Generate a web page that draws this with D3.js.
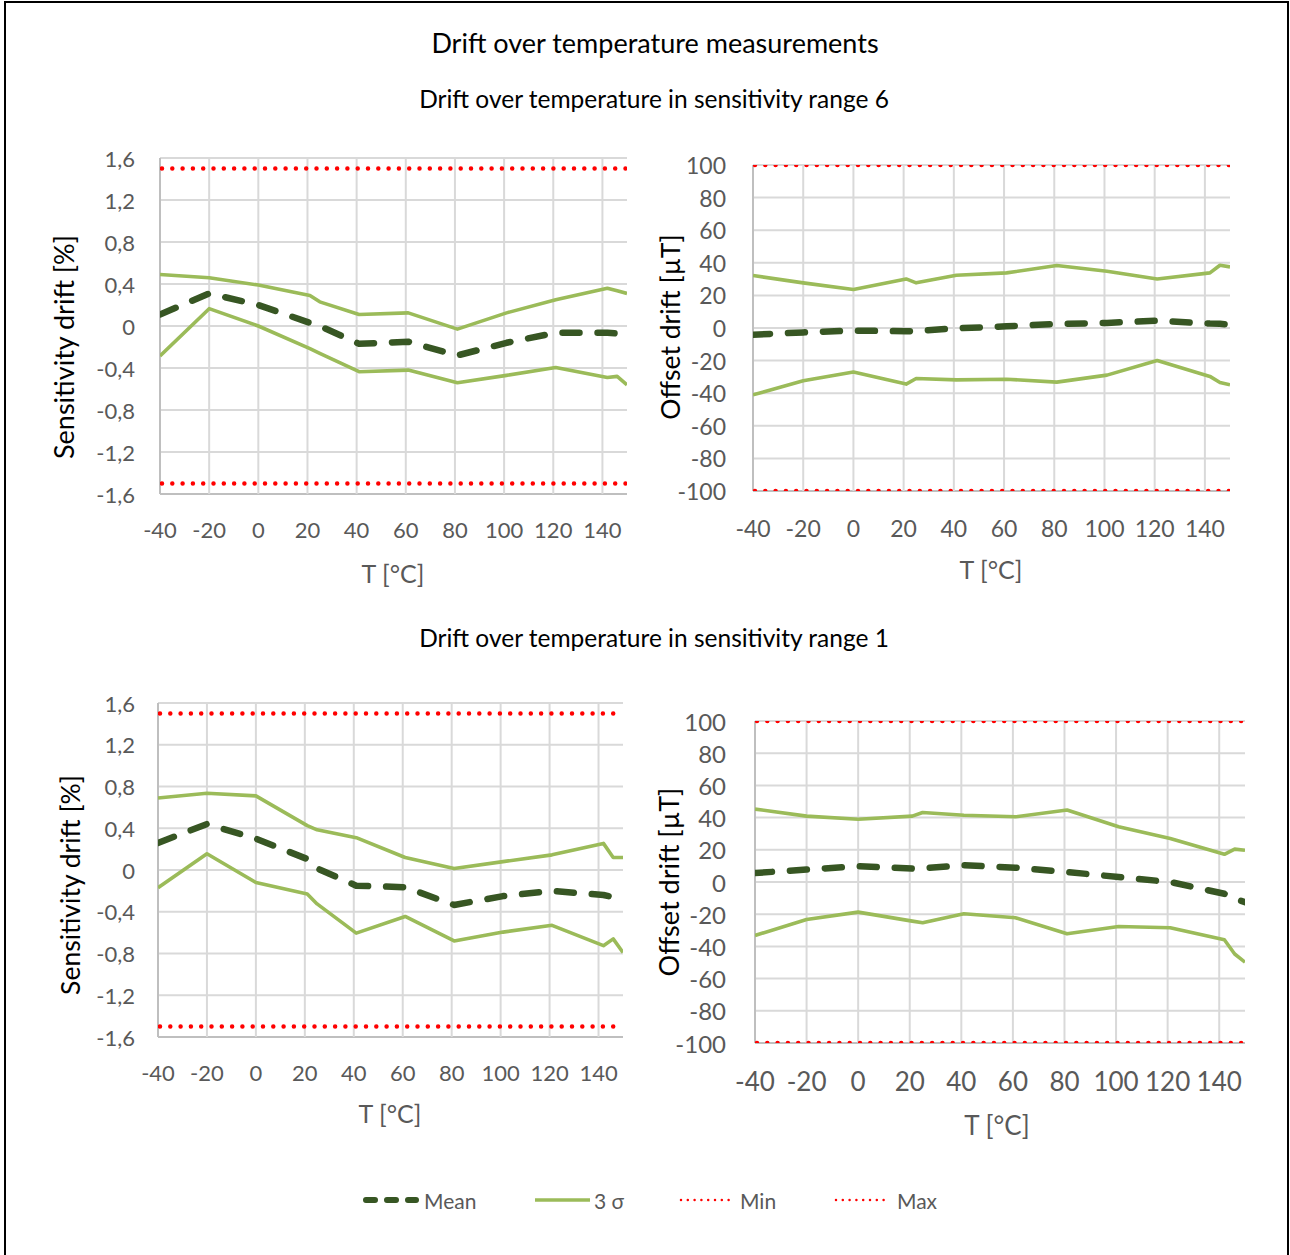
<!DOCTYPE html>
<html>
<head>
<meta charset="utf-8">
<script src="https://cdn.jsdelivr.net/npm/d3@7"></script>
<style>
  body { margin: 0; background: #fff; }
  svg text { font-family: Lato, "Open Sans", sans-serif; }
</style>
</head>
<body>
<div id="chart"></div>
<script>
// temperatures of the measurement points (°C)
const temps = [-40, -20, 0, 21, 25, 41, 61, 81, 101, 121, 142, 146, 150];
const xTicks = [-40, -20, 0, 20, 40, 60, 80, 100, 120, 140];
const sensTicks = [-1.6, -1.2, -0.8, -0.4, 0, 0.4, 0.8, 1.2, 1.6];
const offTicks = [-100, -80, -60, -40, -20, 0, 20, 40, 60, 80, 100];
const sensLimit = 1.5;   // %
const offLimit = 100;    // µT

// sensitivity range 6
const r6SensUpper = [0.49, 0.46, 0.39, 0.29, 0.23, 0.11, 0.125, -0.03, 0.125, 0.25, 0.36, 0.335, 0.31];
const r6SensMean  = [0.11, 0.31, 0.2, 0.03, 0.0, -0.17, -0.15, -0.28, -0.16, -0.065, -0.065, -0.07, -0.08];
const r6SensLower = [-0.285, 0.165, 0, -0.215, -0.26, -0.435, -0.42, -0.54, -0.47, -0.395, -0.49, -0.48, -0.56];
const r6OffUpper  = [32.2, 27.7, 23.6, 30.1, 27.7, 32.4, 33.8, 38.3, 34.8, 30.1, 33.8, 38.5, 37.5];
const r6OffMean   = [-4.1, -2.7, -1.6, -2.0, -1.8, -0.2, 1.0, 2.5, 3.1, 4.5, 2.7, 2.6, 2.0];
const r6OffLower  = [-41, -32.4, -27, -34.4, -31, -31.8, -31.4, -33.2, -28.9, -19.9, -29.7, -33.4, -34.8];

// sensitivity range 1
const r1SensUpper = [0.69, 0.735, 0.71, 0.425, 0.385, 0.31, 0.12, 0.015, 0.08, 0.145, 0.255, 0.12, 0.12];
const r1SensMean  = [0.26, 0.44, 0.30, 0.105, 0.015, -0.15, -0.165, -0.335, -0.25, -0.2, -0.24, -0.26, -0.34];
const r1SensLower = [-0.17, 0.155, -0.12, -0.23, -0.325, -0.605, -0.445, -0.68, -0.595, -0.53, -0.725, -0.66, -0.79];
const r1OffUpper  = [45.3, 40.9, 39, 40.9, 43.2, 41.5, 40.5, 44.7, 34.3, 27, 17.2, 20.4, 19.7];
const r1OffMean   = [5.6, 7.7, 9.8, 8.3, 8.5, 10.4, 8.9, 6.2, 3.1, 0, -7.3, -10.4, -12.5];
const r1OffLower  = [-33.2, -23.3, -18.7, -24.3, -25.3, -19.7, -22.2, -32.2, -27.6, -28.4, -35.9, -44.7, -49.8];

const legendItems = ["Mean", "3 σ", "Min", "Max"];

const W = 1290, H = 1255;
const meanColor = "#375623", sigmaColor = "#9bbb59", limitColor = "#ff0000";
const gridColor = "#d9d9d9", axisColor = "#bfbfbf", labelColor = "#595959";

const svg = d3.select("#chart").append("svg")
  .attr("width", W).attr("height", H);

svg.append("rect")
  .attr("x", 5).attr("y", 2).attr("width", 1283).attr("height", H + 10)
  .attr("fill", "#fff").attr("stroke", "#000").attr("stroke-width", 2);

// titles
svg.append("text").attr("x", 655).attr("y", 42).attr("text-anchor", "middle")
  .attr("dominant-baseline", "central").attr("font-size", 27).attr("fill", "#000")
  .text("Drift over temperature measurements");
svg.append("text").attr("x", 654).attr("y", 98).attr("text-anchor", "middle")
  .attr("dominant-baseline", "central").attr("font-size", 24.5).attr("fill", "#000")
  .text("Drift over temperature in sensitivity range 6");
svg.append("text").attr("x", 654).attr("y", 637).attr("text-anchor", "middle")
  .attr("dominant-baseline", "central").attr("font-size", 24.5).attr("fill", "#000")
  .text("Drift over temperature in sensitivity range 1");

// comma decimals and a plain hyphen for the sign, as in the original
const fmtSens = d => (d === 0 ? "0" : d3.format(".1f")(d)).replace(".", ",").replace("\u2212", "-");
const fmtOff = d => String(d);

let clipId = 0;
function drawPanel(p) {
  const x = d3.scaleLinear().domain([-40, 150]).range([p.left, p.right]);
  const y = d3.scaleLinear().domain([p.ticks[0], p.ticks[p.ticks.length - 1]]).range([p.bottom, p.top]);
  const g = svg.append("g");

  const id = "clip" + (clipId++);
  svg.append("clipPath").attr("id", id).append("rect")
    .attr("x", p.left).attr("y", p.top)
    .attr("width", p.right - p.left).attr("height", p.bottom - p.top);

  // grid
  g.selectAll(".hg").data(p.ticks).enter().append("line")
    .attr("x1", p.left).attr("x2", p.right)
    .attr("y1", d => y(d)).attr("y2", d => y(d))
    .attr("stroke", (d, i) => i === 0 ? axisColor : gridColor).attr("stroke-width", 2);
  g.selectAll(".vg").data(xTicks).enter().append("line")
    .attr("x1", d => x(d)).attr("x2", d => x(d))
    .attr("y1", p.top).attr("y2", p.bottom)
    .attr("stroke", (d, i) => i === 0 ? axisColor : gridColor).attr("stroke-width", 2);

  // tick labels
  g.selectAll(".yl").data(p.ticks).enter().append("text")
    .attr("x", p.left - p.yGap).attr("y", d => y(d))
    .attr("text-anchor", "end").attr("dominant-baseline", "central")
    .attr("font-size", p.yFont).attr("fill", labelColor)
    .text(p.fmt);
  g.selectAll(".xl").data(xTicks).enter().append("text")
    .attr("x", d => x(d)).attr("y", p.bottom + p.xGap)
    .attr("text-anchor", "middle").attr("dominant-baseline", "central")
    .attr("font-size", p.xFont).attr("fill", labelColor)
    .text(d => d);

  // axis titles
  g.append("text").attr("x", p.xTitle[0]).attr("y", p.xTitle[1])
    .attr("text-anchor", "middle").attr("dominant-baseline", "central")
    .attr("font-size", p.xTitleFont).attr("fill", labelColor).text("T [°C]");
  g.append("text")
    .attr("transform", `translate(${p.yTitle[0]},${p.yTitle[1]}) rotate(-90)`)
    .attr("text-anchor", "middle").attr("dominant-baseline", "central")
    .attr("font-size", p.yTitleFont).attr("fill", "#000").text(p.yLabel);

  const line = d3.line().x((d, i) => x(temps[i])).y(d => y(d));
  const plot = g.append("g").attr("clip-path", `url(#${id})`);

  [p.upper, p.lower].forEach(s => {
    plot.append("path").datum(s).attr("d", line)
      .attr("fill", "none").attr("stroke", sigmaColor).attr("stroke-width", 3.6)
      .attr("stroke-linejoin", "round");
  });
  plot.append("path").datum(p.mean).attr("d", line)
    .attr("fill", "none").attr("stroke", meanColor).attr("stroke-width", 6.5)
    .attr("stroke-linecap", "round").attr("stroke-linejoin", "round")
    .attr("stroke-dasharray", "17,18");

  [-p.limit, p.limit].forEach(v => {
    plot.append("line")
      .attr("x1", x(-40) + 2).attr("x2", p.right)
      .attr("y1", y(v)).attr("y2", y(v))
      .attr("stroke", limitColor).attr("stroke-width", 4.5)
      .attr("stroke-linecap", "round").attr("stroke-dasharray", "0,10.3");
  });
}

drawPanel({
  left: 160, right: 627, top: 158, bottom: 494, ticks: sensTicks, fmt: fmtSens,
  upper: r6SensUpper, mean: r6SensMean, lower: r6SensLower, limit: sensLimit,
  yGap: 25, xGap: 35, yFont: 22, xFont: 22, xTitleFont: 25, yTitleFont: 27,
  xTitle: [393, 573], yTitle: [63, 347], yLabel: "Sensitivity drift [%]"
});
drawPanel({
  left: 753, right: 1230, top: 165, bottom: 491, ticks: offTicks, fmt: fmtOff,
  upper: r6OffUpper, mean: r6OffMean, lower: r6OffLower, limit: offLimit,
  yGap: 27, xGap: 37, yFont: 23, xFont: 23, xTitleFont: 25, yTitleFont: 26.5,
  xTitle: [991, 569], yTitle: [670, 327], yLabel: "Offset drift [µT]"
});
drawPanel({
  left: 158, right: 623, top: 703, bottom: 1037, ticks: sensTicks, fmt: fmtSens,
  upper: r1SensUpper, mean: r1SensMean, lower: r1SensLower, limit: sensLimit,
  yGap: 23, xGap: 35, yFont: 22, xFont: 22, xTitleFont: 25, yTitleFont: 26.5,
  xTitle: [390, 1113], yTitle: [70, 885], yLabel: "Sensitivity drift [%]"
});
drawPanel({
  left: 755, right: 1245, top: 721, bottom: 1043, ticks: offTicks, fmt: fmtOff,
  upper: r1OffUpper, mean: r1OffMean, lower: r1OffLower, limit: offLimit,
  yGap: 29, xGap: 38, yFont: 24, xFont: 26, xTitleFont: 26, yTitleFont: 27,
  xTitle: [997, 1125], yTitle: [668, 882], yLabel: "Offset drift [µT]"
});

// legend
const lg = svg.append("g");
const ly = 1200;
lg.append("line").attr("x1", 366).attr("x2", 416).attr("y1", ly).attr("y2", ly)
  .attr("stroke", meanColor).attr("stroke-width", 6).attr("stroke-linecap", "round")
  .attr("stroke-dasharray", "9,12");
lg.append("line").attr("x1", 535).attr("x2", 590).attr("y1", ly).attr("y2", ly)
  .attr("stroke", sigmaColor).attr("stroke-width", 3.6);
[[681, 729], [836, 884]].forEach(([a, b]) => {
  lg.append("line").attr("x1", a).attr("x2", b).attr("y1", ly).attr("y2", ly)
    .attr("stroke", limitColor).attr("stroke-width", 2.5).attr("stroke-linecap", "round")
    .attr("stroke-dasharray", "0,6.8");
});
const legendX = [424, 594, 740, 897];
lg.selectAll(".lt").data(legendItems).enter().append("text")
  .attr("x", (d, i) => legendX[i]).attr("y", ly)
  .attr("dominant-baseline", "central").attr("font-size", 21).attr("fill", labelColor)
  .text(d => d);
</script>
</body>
</html>
